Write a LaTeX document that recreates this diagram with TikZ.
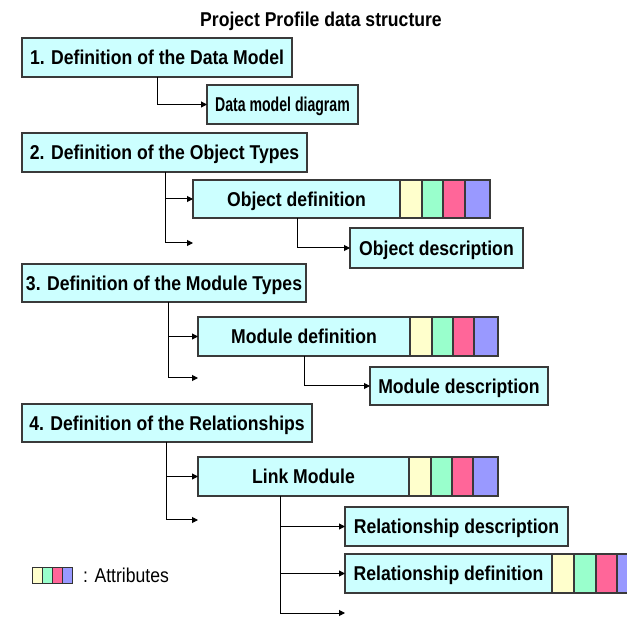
\documentclass[tikz,border=0pt]{standalone}
\usepackage{fontspec}
\usepackage{graphicx}
\setmainfont{Liberation Sans}[FakeStretch=0.88]
\usetikzlibrary{arrows.meta}
\definecolor{boxfill}{HTML}{CCFFFF}
\definecolor{boxborder}{HTML}{3A3A3A}
\definecolor{attY}{HTML}{FFFFCC}
\definecolor{attG}{HTML}{99FFCC}
\definecolor{attP}{HTML}{FF6699}
\definecolor{attB}{HTML}{9999FF}
\newcommand{\bigfont}{\fontsize{20pt}{24pt}\selectfont}
\tikzset{
  box/.style={draw=boxborder, fill=boxfill, line width=1.2pt, inner sep=0pt, outer sep=0pt,
    text height=14.3pt, text depth=0pt, font=\bigfont\bfseries},
  attr/.style={draw=boxborder, line width=1.2pt, inner sep=0pt, outer sep=0pt, anchor=west},
  conn/.style={draw=black, line width=1pt},
  arr/.style={conn, -{Triangle[length=6pt,width=6pt]}},
  lcell/.style={draw=black!80, line width=0.8pt, inner sep=0pt, outer sep=0pt, minimum width=10pt, minimum height=16pt},
}
\begin{document}
\begin{tikzpicture}[x=1pt,y=-1pt,font=\bigfont]
\clip (0,0) rectangle (627,617);
\fill[white] (0,0) rectangle (627,617);

\node[font=\bigfont\bfseries, inner sep=0pt, text height=14.3pt, text depth=0pt] (title) at (321,19) {Project Profile data structure};

% Section 1
\node[box, minimum width=270pt, minimum height=39pt] (b1) at (157,57.5) {1. Definition of the Data Model};
\node[box, minimum width=151pt, minimum height=39pt] (b1a) at (282.5,104.5) {\scalebox{0.8}[1]{Data model diagram}};
\draw[arr] ([xshift=135pt]b1.south west) |- (b1a.west);

% Section 2
\node[box, minimum width=285pt, minimum height=39pt] (b2) at (164.5,152.5) {2. Definition of the Object Types};
\node[box, minimum width=207pt, minimum height=38pt] (b2a) at (296.5,199) {Object definition};
\node[attr, fill=attY, minimum width=22pt, minimum height=38pt] (b2y) at (b2a.east) {};
\node[attr, fill=attG, minimum width=21pt, minimum height=38pt] (b2g) at (b2y.east) {};
\node[attr, fill=attP, minimum width=22pt, minimum height=38pt] (b2p) at (b2g.east) {};
\node[attr, fill=attB, minimum width=25pt, minimum height=38pt] (b2b) at (b2p.east) {};
\node[box, minimum width=173pt, minimum height=40pt] (b2d) at (436.5,248) {Object description};
\coordinate (e2) at (193,243);
\draw[arr] ([xshift=143pt]b2.south west) |- (b2a.west);
\draw[arr] ([xshift=143pt]b2.south west) |- (e2);
\draw[arr] ([xshift=104pt]b2a.south west) |- (b2d.west);

% Section 3
\node[box, minimum width=284pt, minimum height=38pt] (b3) at (164,283) {3. Definition of the Module Types};
\node[box, minimum width=212pt, minimum height=39pt] (b3a) at (304,336.5) {Module definition};
\node[attr, fill=attY, minimum width=22pt, minimum height=39pt] (b3y) at (b3a.east) {};
\node[attr, fill=attG, minimum width=21pt, minimum height=39pt] (b3g) at (b3y.east) {};
\node[attr, fill=attP, minimum width=21pt, minimum height=39pt] (b3p) at (b3g.east) {};
\node[attr, fill=attB, minimum width=24pt, minimum height=39pt] (b3b) at (b3p.east) {};
\node[box, minimum width=178pt, minimum height=38pt] (b3d) at (459,386) {Module description};
\coordinate (e3) at (198,378);
\draw[arr] ([xshift=146pt]b3.south west) |- (b3a.west);
\draw[arr] ([xshift=146pt]b3.south west) |- (e3);
\draw[arr] ([xshift=106pt]b3a.south west) |- (b3d.west);

% Section 4
\node[box, minimum width=290pt, minimum height=38pt] (b4) at (167,423) {4. Definition of the Relationships};
\node[box, minimum width=211pt, minimum height=39pt] (b4a) at (303.5,476.5) {Link Module};
\node[attr, fill=attY, minimum width=22pt, minimum height=39pt] (b4y) at (b4a.east) {};
\node[attr, fill=attG, minimum width=21pt, minimum height=39pt] (b4g) at (b4y.east) {};
\node[attr, fill=attP, minimum width=21pt, minimum height=39pt] (b4p) at (b4g.east) {};
\node[attr, fill=attB, minimum width=25pt, minimum height=39pt] (b4b) at (b4p.east) {};
\node[box, minimum width=223pt, minimum height=39pt] (b4d) at (456.5,526.5) {Relationship description};
\node[box, minimum width=207pt, minimum height=39pt] (b4e) at (448.5,573.5) {Relationship definition};
\node[attr, fill=attY, minimum width=22pt, minimum height=39pt] (b4ey) at (b4e.east) {};
\node[attr, fill=attG, minimum width=22pt, minimum height=39pt] (b4eg) at (b4ey.east) {};
\node[attr, fill=attP, minimum width=21pt, minimum height=39pt] (b4ep) at (b4eg.east) {};
\node[attr, fill=attB, minimum width=24pt, minimum height=39pt] (b4eb) at (b4ep.east) {};
\coordinate (e4) at (198,520);
\coordinate (e4b) at (345,613);
\draw[arr] ([xshift=144pt]b4.south west) |- (b4a.west);
\draw[arr] ([xshift=144pt]b4.south west) |- (e4);
\draw[arr] ([xshift=82pt]b4a.south west) |- (b4d.west);
\draw[arr] ([xshift=82pt]b4a.south west) |- (b4e.west);
\draw[arr] ([xshift=82pt]b4a.south west) |- (e4b);

% Legend
\node[lcell, fill=attY] (ly) at (37,575) {};
\node[lcell, fill=attG] (lg) at (47,575) {};
\node[lcell, fill=attP] (lp) at (57,575) {};
\node[lcell, fill=attB] (lb) at (67,575) {};
\node[anchor=base west, inner sep=0pt] (ltext) at (83,582.5) {: Attributes};
\end{tikzpicture}
\end{document}
